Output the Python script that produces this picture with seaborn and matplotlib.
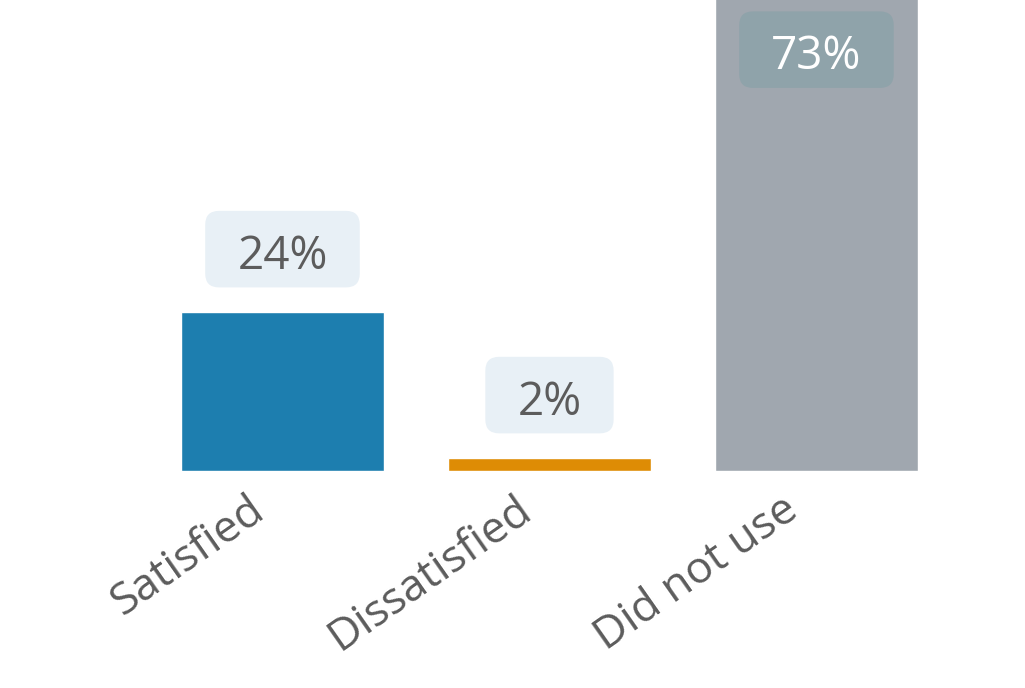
import matplotlib
matplotlib.use("Agg")
import matplotlib.pyplot as plt
import matplotlib.transforms as mtransforms
from matplotlib.patches import BoxStyle
import seaborn as sns
import pandas as pd

categories = ["Satisfied", "Dissatisfied", "Did not use"]
values = [24, 2, 73]
labels = ["24%", "2%", "73%"]
bar_colors = ["#1d7eaf", "#de8c05", "#a0a7af"]

sns.set_theme(style="white")
plt.rcParams["font.family"] = ["Open Sans", "DejaVu Sans"]

text_color = "#5c5c5c"
DPI = 100

fig = plt.figure(figsize=(10.25, 6.88), dpi=DPI)
ax = fig.add_axes([0, 0.3154, 1, 0.6846])

df = pd.DataFrame({"category": categories, "value": values})
sns.barplot(data=df, x="category", y="value", hue="category",
            palette=bar_colors, saturation=1, width=0.76,
            legend=False, ax=ax)

ax.set_xlim(-1.058, 2.781)
ax.set_ylim(0, 71.0)
ax.set_xlabel("")
ax.set_ylabel("")
ax.set_yticks([])
for s in ax.spines.values():
    s.set_visible(False)

ax.tick_params(axis="x", length=0, pad=12)
for t in ax.get_xticklabels():
    t.set_rotation(35)
    t.set_ha("right")
    t.set_va("top")
    t.set_rotation_mode("anchor")
    t.set_fontsize(32)
    t.set_color(text_color)
    t.set_transform(t.get_transform() + mtransforms.ScaledTranslation(-35 / DPI, 0, fig.dpi_scale_trans))

_round = BoxStyle.Round(pad=0, rounding_size=0.3)


def pill(x0, y0, width, height, mutation_size):
    # wide horizontal padding, fixed overall height, rounded corners;
    # the box sits a little above the text centre
    padx = 0.70 * mutation_size
    h = 1.67 * mutation_size
    cy = y0 + height / 2 + 0.17 * mutation_size
    return _round(x0 - padx, cy - h / 2, width + 2 * padx, h, mutation_size)


ylim_top = ax.get_ylim()[1]
blend = mtransforms.blended_transform_factory(ax.transData, ax.transAxes)
for i, (v, lab) in enumerate(zip(values, labels)):
    if v < ylim_top - 10:
        ax.annotate(lab, xy=(i, v), xytext=(0, 39.5), textcoords="offset points",
                    ha="center", va="center", fontsize=33, color=text_color,
                    bbox=dict(boxstyle=pill, fc="#e8f0f6", ec="none"))
    else:
        ax.text(i, 0.895, lab, transform=blend, ha="center", va="center",
                fontsize=33, color="white",
                bbox=dict(boxstyle=pill, fc="#8fa3aa", ec="none"))
        ax.texts[-1].set_transform(blend + mtransforms.ScaledTranslation(0, -8 / DPI, fig.dpi_scale_trans))

fig.savefig("out.png", dpi=DPI)
